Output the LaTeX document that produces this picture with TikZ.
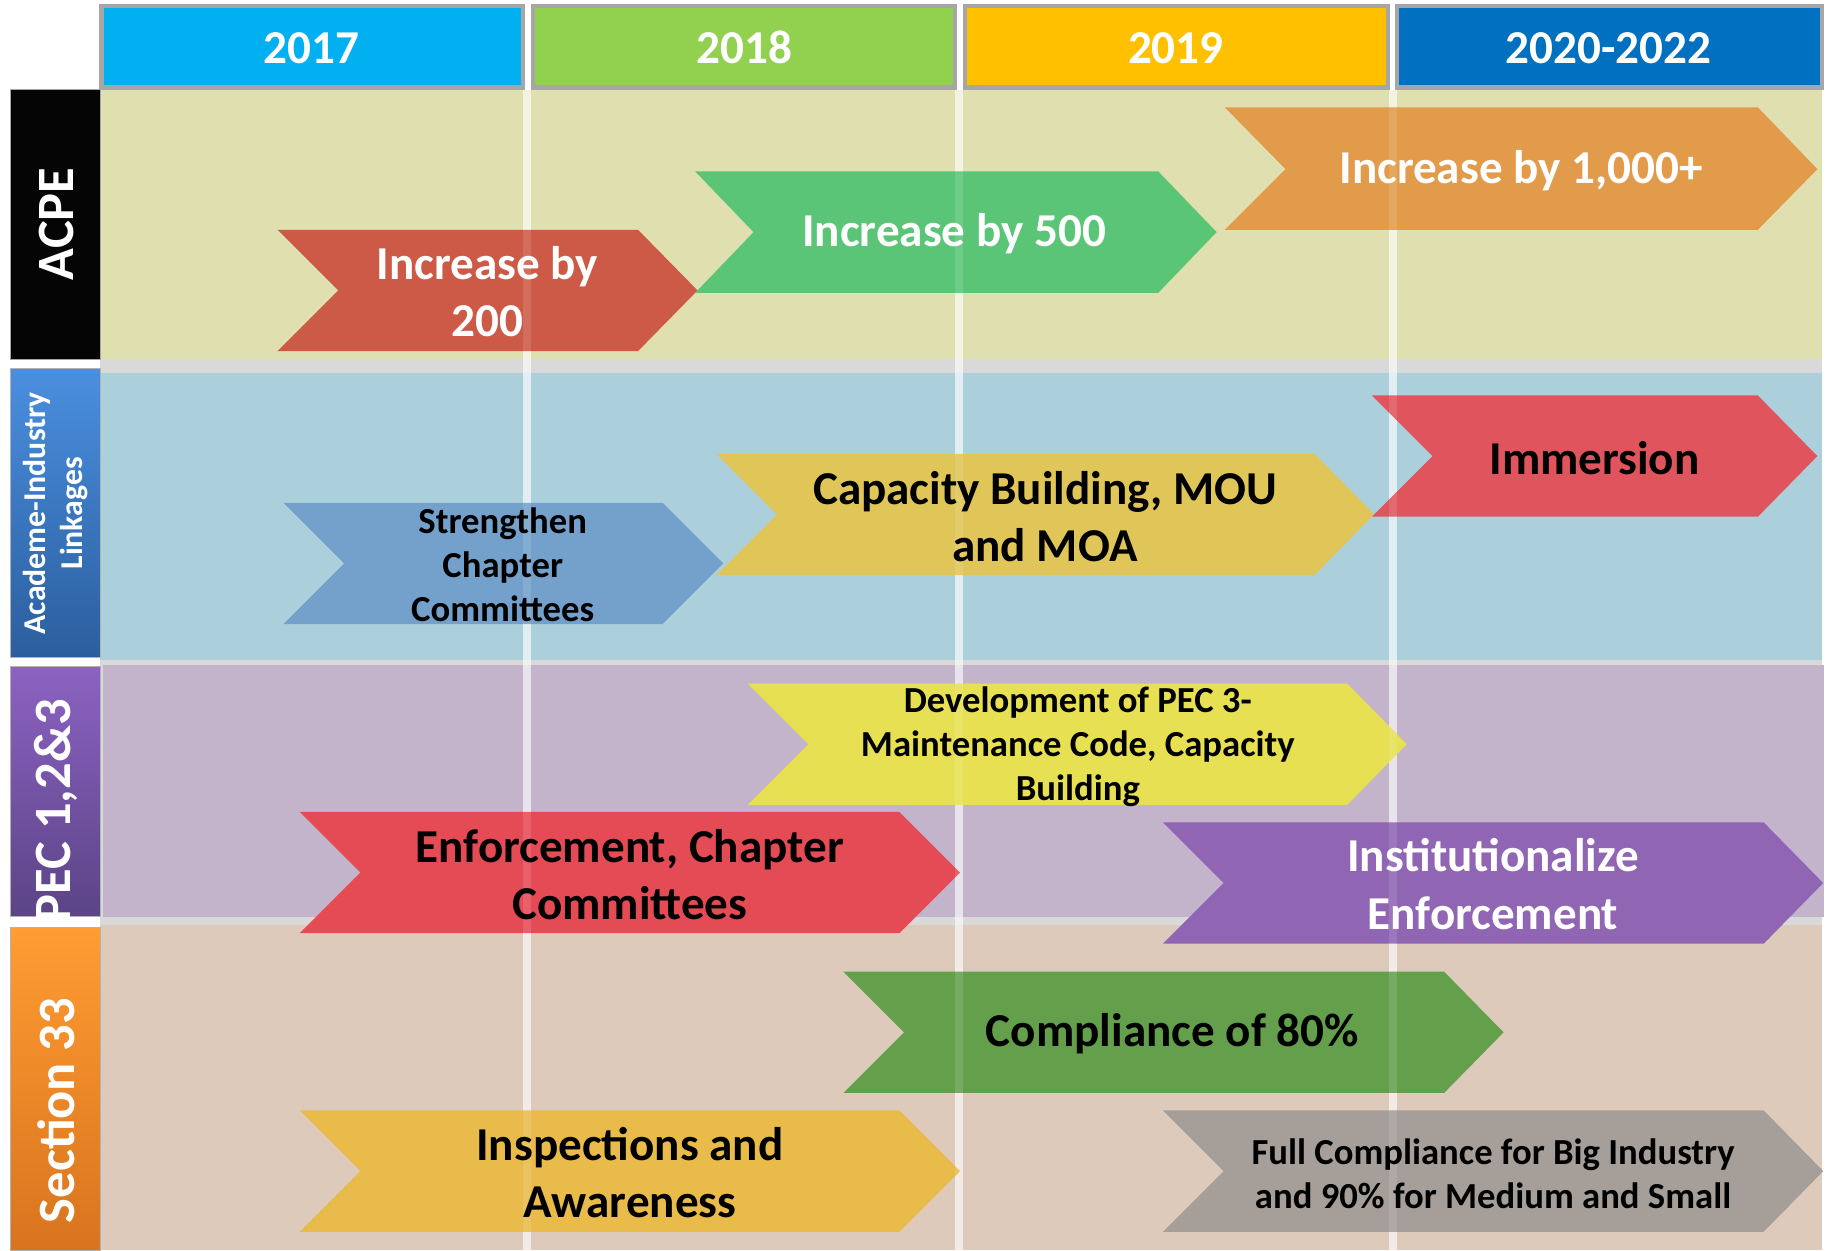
\documentclass[tikz,border=0pt]{standalone}
\usepackage{fontspec}
\setmainfont{Carlito}
\usepackage{tikz}
\usetikzlibrary{positioning}
\definecolor{Yr_Cyan}{HTML}{00B0F0}
\definecolor{Yr_Lime}{HTML}{92D050}
\definecolor{Yr_Amber}{HTML}{FFC000}
\definecolor{Yr_Navy}{HTML}{0070C0}
\definecolor{Yr_Edge}{HTML}{A6A6A6}
\definecolor{Gap_Grey}{HTML}{D9D9D9}
\definecolor{Row_Khaki}{HTML}{E0DFAF}
\definecolor{Row_Sky}{HTML}{ABD0DC}
\definecolor{Row_Lilac}{HTML}{C3B4CC}
\definecolor{Row_Sand}{HTML}{DDCABB}
\definecolor{Tab_BlueTop}{HTML}{4A8FDF}
\definecolor{Tab_BlueBot}{HTML}{2B5E9E}
\definecolor{Tab_PurpleTop}{HTML}{8C62C2}
\definecolor{Tab_PurpleBot}{HTML}{5B4486}
\definecolor{Tab_OrangeTop}{HTML}{FF9C32}
\definecolor{Tab_OrangeBot}{HTML}{D8741E}
\definecolor{Ch_Brick}{HTML}{CD5A47}
\definecolor{Ch_Mint}{HTML}{5AC577}
\definecolor{Ch_Tan}{HTML}{E29A4B}
\definecolor{Ch_Steel}{HTML}{74A1CB}
\definecolor{Ch_Mustard}{HTML}{E0C658}
\definecolor{Ch_Coral}{HTML}{E0555D}
\definecolor{Ch_Lemon}{HTML}{E6E052}
\definecolor{Ch_Scarlet}{HTML}{E54B55}
\definecolor{Ch_Violet}{HTML}{8F65B4}
\definecolor{Ch_Moss}{HTML}{64A04C}
\definecolor{Ch_Gold}{HTML}{E8BB4A}
\definecolor{Ch_Stone}{HTML}{A59E99}

\begin{document}
\begin{tikzpicture}[x=0.02cm, y=-0.02cm,
    yeartext/.style={text=white, font=\fontsize{23}{27}\selectfont\bfseries},
    tabtext/.style={text=white, rotate=90, align=center, font=\fontsize{25.6}{30}\selectfont\bfseries},
    bigtext/.style={align=center, font=\fontsize{23}{28}\selectfont\bfseries},
    smalltext/.style={align=center, font=\fontsize{17.9}{21.6}\selectfont\bfseries}]

    \useasboundingbox (0,0) rectangle (1568,1072);

    % Year header boxes
    \filldraw[fill=Yr_Cyan, draw=Yr_Edge, line width=0.07cm] (87,5) rectangle (448,75);
    \filldraw[fill=Yr_Lime, draw=Yr_Edge, line width=0.07cm] (457,5) rectangle (819,75);
    \filldraw[fill=Yr_Amber, draw=Yr_Edge, line width=0.07cm] (827,5) rectangle (1190,75);
    \filldraw[fill=Yr_Navy, draw=Yr_Edge, line width=0.07cm] (1198,5) rectangle (1562,75);

    % Grey gaps behind the rows
    \fill[Gap_Grey] (86,77) rectangle (1562,1072);

    % Row bands
    \fill[Row_Khaki] (86,77) rectangle (1562,308);
    \fill[Row_Sky] (86,320) rectangle (1562,566);
    \fill[Row_Lilac] (88,570) rectangle (1564,786);
    \fill[Row_Sand] (86,793) rectangle (1562,1072);

    % Year dividers
    \foreach \xs in {452,822,1194}
        \fill[white, opacity=0.6] (\xs-3.5,77) rectangle (\xs+3.5,1072);

    % Row tabs
    \fill[black!98, draw=black!35] (9,77) rectangle (86,308);
    \shade[top color=Tab_BlueTop, bottom color=Tab_BlueBot, draw=black!30]
        (9,316) rectangle (86,564);
    \shade[top color=Tab_PurpleTop, bottom color=Tab_PurpleBot, draw=black!30]
        (9,571) rectangle (86,786);
    \shade[top color=Tab_OrangeTop, bottom color=Tab_OrangeBot, draw=black!30]
        (9,795) rectangle (86,1072);

    % ACPE chevrons
    \fill[Ch_Brick] (238,197) -- (547,197) -- (598,249) -- (547,301) -- (238,301) -- (290,249) -- cycle;
    \fill[Ch_Mint] (596,147) -- (993,147) -- (1043,199) -- (993,251) -- (596,251) -- (646,199) -- cycle;
    \fill[Ch_Tan] (1050,92) -- (1507,92) -- (1558,145) -- (1507,197) -- (1050,197) -- (1102,145) -- cycle;

    % Academe-Industry chevrons
    \fill[Ch_Steel] (243,431) -- (568,431) -- (620,483) -- (568,535) -- (243,535) -- (295,483) -- cycle;
    \fill[Ch_Mustard] (614,389) -- (1127,389) -- (1178,441) -- (1127,493) -- (614,493) -- (666,441) -- cycle;
    \fill[Ch_Coral] (1176,339) -- (1507,339) -- (1558,391) -- (1507,443) -- (1176,443) -- (1228,391) -- cycle;

    % PEC chevrons
    \fill[Ch_Lemon] (641,586) -- (1155,586) -- (1206,638) -- (1155,690) -- (641,690) -- (693,638) -- cycle;
    \fill[Ch_Scarlet] (257,696) -- (771,696) -- (823,748) -- (771,800) -- (257,800) -- (309,748) -- cycle;
    \fill[Ch_Violet] (997,705) -- (1512,705) -- (1563,757) -- (1512,809) -- (997,809) -- (1049,757) -- cycle;

    % Section 33 chevrons
    \fill[Ch_Moss] (723,833) -- (1238,833) -- (1289,885) -- (1238,937) -- (723,937) -- (775,885) -- cycle;
    \fill[Ch_Gold] (257,952) -- (771,952) -- (823,1004) -- (771,1056) -- (257,1056) -- (309,1004) -- cycle;
    \fill[Ch_Stone] (997,952) -- (1512,952) -- (1563,1004) -- (1512,1056) -- (997,1056) -- (1049,1004) -- cycle;

    % Dividers show faintly through the chevrons
    \foreach \xs in {452,822,1194}
        \fill[white, opacity=0.12] (\xs-3.5,77) rectangle (\xs+3.5,1072);

    % Year labels
    \node[yeartext] (y2017) at (267,41) {2017};
    \node[yeartext] (y2018) at (638,41) {2018};
    \node[yeartext] (y2019) at (1008,41) {2019};
    \node[yeartext] (y2020) at (1379,41) {2020-2022};

    % Tab labels
    \node[tabtext] (acpe) at (48,192) {ACPE};
    \node[tabtext, font=\fontsize{15.5}{18}\selectfont\bfseries] (academe) at (48,440) {Academe-Industry\\Linkages};
    \node[tabtext] (pec) at (48,695) {PEC 1,2\&3};
    \node[tabtext] (sec33) at (48,952) {Section 33};

    % Chevron labels
    \node[bigtext, text=white] (inc200) at (418,250) {Increase by\\200};
    \node[bigtext, text=white] (inc500) at (818,200) {Increase by 500};
    \node[bigtext, text=white] (inc1000) at (1304,146) {Increase by 1,000+};
    \node[smalltext] (strengthen) at (431,484) {Strengthen\\Chapter\\Committees};
    \node[bigtext] (capacity) at (896,443) {Capacity Building, MOU\\and MOA};
    \node[bigtext] (immersion) at (1367,393) {Immersion};
    \node[smalltext] (pec3) at (924,640) {Development of PEC 3-\\Maintenance Code, Capacity\\Building};
    \node[bigtext] (enforce) at (540,750) {Enforcement, Chapter\\Committees};
    \node[bigtext, text=white] (institute) at (1280,758) {Institutionalize\\Enforcement};
    \node[bigtext] (comply80) at (1005,886) {Compliance of 80\%};
    \node[bigtext] (inspect) at (540,1005) {Inspections and\\Awareness};
    \node[smalltext] (fullcomply) at (1280,1006) {Full Compliance for Big Industry\\and 90\% for Medium and Small};

\end{tikzpicture}
\end{document}
